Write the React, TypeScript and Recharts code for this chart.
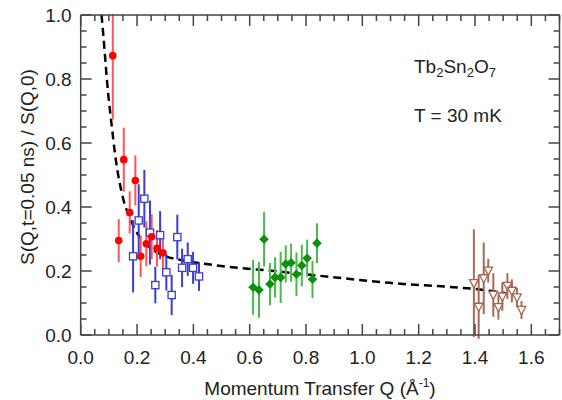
import { ComposedChart, ErrorBar, Line, Scatter, XAxis, YAxis } from 'recharts'

// values (Q in 1/Å, S = S(Q,t)/S(Q,0), err = half length of the bar)
const redQ = [0.114, 0.135, 0.153, 0.174, 0.194, 0.213, 0.233, 0.252, 0.271, 0.292]
const redS = [0.873, 0.295, 0.548, 0.383, 0.483, 0.246, 0.285, 0.307, 0.271, 0.257]
const redErr = [0.2, 0.067, 0.1, 0.066, 0.078, 0.065, 0.07, 0.07, 0.057, 0.06]

const blueQ = [0.186, 0.206, 0.226, 0.246, 0.265, 0.282, 0.304, 0.323, 0.343, 0.36, 0.38, 0.399, 0.42]
const blueS = [0.246, 0.358, 0.426, 0.32, 0.156, 0.312, 0.196, 0.125, 0.306, 0.21, 0.237, 0.21, 0.183]
const blueErr = [0.113, 0.113, 0.09, 0.1, 0.057, 0.075, 0.057, 0.063, 0.07, 0.06, 0.052, 0.05, 0.045]

const greenQ = [0.612, 0.633, 0.651, 0.672, 0.69, 0.71, 0.728, 0.747, 0.766, 0.785, 0.804, 0.823, 0.839]
const greenS = [0.149, 0.141, 0.299, 0.159, 0.18, 0.18, 0.222, 0.226, 0.19, 0.217, 0.24, 0.174, 0.287]
const greenErr = [0.086, 0.087, 0.085, 0.066, 0.063, 0.08, 0.058, 0.06, 0.068, 0.065, 0.058, 0.058, 0.062]

const brownQ = [1.396, 1.413, 1.431, 1.447, 1.465, 1.483, 1.497, 1.515, 1.531, 1.549, 1.565]
const brownS = [0.162, 0.088, 0.177, 0.201, 0.125, 0.087, 0.12, 0.153, 0.138, 0.117, 0.078]
const brownErr = [0.168, 0.1, 0.112, 0.037, 0.068, 0.039, 0.044, 0.04, 0.036, 0.03, 0.028]

// dashed fit curve
const curveQ = [0.074, 0.08, 0.098, 0.11, 0.122, 0.151, 0.175, 0.21, 0.258, 0.305, 0.34, 0.46, 0.707, 1.097, 1.454, 1.516]
const curveS = [1.0, 0.94, 0.75, 0.655, 0.565, 0.425, 0.365, 0.305, 0.265, 0.245, 0.237, 0.22, 0.198, 0.163, 0.138, 0.13]

const xMajorTicks = [0, 0.2, 0.4, 0.6, 0.8, 1.0, 1.2, 1.4, 1.6]
const xTickLabels = ['0.0', '0.2', '0.4', '0.6', '0.8', '1.0', '1.2', '1.4', '1.6']
const yMajorTicks = [0, 0.2, 0.4, 0.6, 0.8, 1.0]
const yTickLabels = ['0.0', '0.2', '0.4', '0.6', '0.8', '1.0']
const xMinorStep = 0.05
const yMinorStep = 0.05

const X_MAX = 1.7
const Y_MAX = 1.0

const FRAME = '#444'
const FONT = '"Liberation Sans", Arial, sans-serif'
const FONT_SIZE = 19

const MARGIN = { top: 14, right: 1.5, bottom: 64, left: 79.7 }
const W = 562
const H = 400

const toRows = (q: number[], s: number[], err: number[]) =>
  q.map((v, i) => ({ q: v, s: s[i], err: err[i] }))

const redData = toRows(redQ, redS, redErr)
const blueData = toRows(blueQ, blueS, blueErr)
const greenData = toRows(greenQ, greenS, greenErr)
const brownData = toRows(brownQ, brownS, brownErr)
const curveData = curveQ.map((q, i) => ({ q, s: curveS[i] }))

const steps = (max: number, step: number) =>
  Array.from({ length: Math.round(max / step) + 1 }, (_, i) => +(i * step).toFixed(3))

const xTicks = steps(X_MAX, xMinorStep)
const yTicks = steps(Y_MAX, yMinorStep)

const majorIndex = (v: number, majors: number[]) => majors.findIndex((m) => Math.abs(m - v) < 1e-6)

const MAJOR_LEN = 11
const MINOR_LEN = 6

function makeTick(side: 'bottom' | 'top' | 'left' | 'right') {
  return (p: any) => {
    const v = p.payload.value
    const horizontal = side === 'bottom' || side === 'top'
    const idx = majorIndex(v, horizontal ? xMajorTicks : yMajorTicks)
    const len = idx >= 0 ? MAJOR_LEN : MINOR_LEN
    const { x, y } = p
    let line
    if (side === 'bottom') line = <line x1={x} x2={x} y1={y} y2={y - len} />
    else if (side === 'top') line = <line x1={x} x2={x} y1={y} y2={y + len} />
    else if (side === 'left') line = <line x1={x} x2={x + len} y1={y} y2={y} />
    else line = <line x1={x} x2={x - len} y1={y} y2={y} />
    return (
      <g>
        <g stroke={FRAME} strokeWidth={1.5}>{line}</g>
        {side === 'bottom' && idx >= 0 && (
          <text x={x} y={y + 29} textAnchor="middle" fontFamily={FONT} fontSize={FONT_SIZE} fill="#222">
            {xTickLabels[idx]}
          </text>
        )}
        {side === 'left' && idx >= 0 && (
          <text x={x - 9} y={y + 7} textAnchor="end" fontFamily={FONT} fontSize={FONT_SIZE} fill="#222">
            {yTickLabels[idx]}
          </text>
        )}
      </g>
    )
  }
}

const RedDot = (p: any) => <circle cx={p.cx} cy={p.cy} r={3.8} fill="#ff0000" />
const BlueSquare = (p: any) => (
  <rect x={p.cx - 3.6} y={p.cy - 3.6} width={7.2} height={7.2} fill="#fff" stroke="#3b3bd6" strokeWidth={1.3} />
)
const GreenDiamond = (p: any) => (
  <polygon
    points={`${p.cx},${p.cy - 4.8} ${p.cx + 4.8},${p.cy} ${p.cx},${p.cy + 4.8} ${p.cx - 4.8},${p.cy}`}
    fill="#0a930a"
  />
)
const BrownTriangle = (p: any) => (
  <polygon
    points={`${p.cx - 4.3},${p.cy - 3.6} ${p.cx + 4.3},${p.cy - 3.6} ${p.cx},${p.cy + 4.6}`}
    fill="#fff"
    stroke="#a5644f"
    strokeWidth={1.3}
  />
)

const axisLine = { stroke: FRAME, strokeWidth: 1.5 }

// axes are 1px thick (recharts skips zero-sized axes); margins absorb that pixel
const xAxisCommon = {
  type: 'number' as const,
  dataKey: 'q',
  domain: [0, X_MAX],
  ticks: xTicks,
  interval: 0,
  allowDataOverflow: true,
  height: 1,
  tickSize: 0,
  tickMargin: 0,
  tickLine: false,
  axisLine,
}

const yAxisCommon = {
  type: 'number' as const,
  domain: [0, Y_MAX],
  ticks: yTicks,
  interval: 0,
  allowDataOverflow: true,
  width: 1,
  tickSize: 0,
  tickMargin: 0,
  tickLine: false,
  axisLine,
}

export default function App() {
  const plotLeft = MARGIN.left + 1
  const plotRight = W - MARGIN.right - 1
  const plotTop = MARGIN.top + 1
  return (
    <div style={{ width: W, height: H, position: 'relative', background: '#fff' }}>
      <style>{'body{margin:0}'}</style>
      <ComposedChart width={W} height={H} margin={MARGIN}>
        <XAxis xAxisId="b" orientation="bottom" {...xAxisCommon} tick={makeTick('bottom')} />
        <XAxis xAxisId="t" orientation="top" {...xAxisCommon} tick={makeTick('top')} />
        <YAxis yAxisId="l" orientation="left" {...yAxisCommon} tick={makeTick('left')} />
        <YAxis yAxisId="r" orientation="right" {...yAxisCommon} tick={makeTick('right')} />

        <Line
          xAxisId="b"
          yAxisId="l"
          data={curveData}
          dataKey="s"
          type="monotone"
          stroke="#000"
          strokeWidth={2.5}
          strokeDasharray="8 5"
          dot={false}
          activeDot={false}
          isAnimationActive={false}
        />
        <Scatter xAxisId="b" yAxisId="l" data={blueData} dataKey="s" shape={BlueSquare} isAnimationActive={false}>
          <ErrorBar dataKey="err" direction="y" width={0} stroke="#3b3bd6" strokeWidth={2} />
        </Scatter>
        <Scatter xAxisId="b" yAxisId="l" data={redData} dataKey="s" shape={RedDot} isAnimationActive={false}>
          <ErrorBar dataKey="err" direction="y" width={0} stroke="#ff5555" strokeWidth={2} />
        </Scatter>
        <Scatter xAxisId="b" yAxisId="l" data={greenData} dataKey="s" shape={GreenDiamond} isAnimationActive={false}>
          <ErrorBar dataKey="err" direction="y" width={0} stroke="#4cb84c" strokeWidth={2} />
        </Scatter>
        <Scatter xAxisId="b" yAxisId="l" data={brownData} dataKey="s" shape={BrownTriangle} isAnimationActive={false}>
          <ErrorBar dataKey="err" direction="y" width={0} stroke="#a86a56" strokeWidth={2} />
        </Scatter>

        <text x={414} y={73} fontFamily={FONT} fontSize={FONT_SIZE} fill="#222">
          Tb<tspan fontSize={13} dy={4}>2</tspan>
          <tspan dy={-4}>Sn</tspan>
          <tspan fontSize={13} dy={4}>2</tspan>
          <tspan dy={-4}>O</tspan>
          <tspan fontSize={13} dy={4}>7</tspan>
        </text>
        <text x={414} y={122} fontFamily={FONT} fontSize={FONT_SIZE} fill="#222">
          T = 30 mK
        </text>
        <text
          x={0}
          y={0}
          transform="translate(34 167) rotate(-90)"
          textAnchor="middle"
          fontFamily={FONT}
          fontSize={FONT_SIZE}
          fill="#222"
        >
          S(Q,t=0.05 ns) / S(Q,0)
        </text>
        <text x={320} y={395} textAnchor="middle" fontFamily={FONT} fontSize={FONT_SIZE} fill="#222">
          Momentum Transfer Q (Å<tspan fontSize={12} dy={-8}>-1</tspan>
          <tspan dy={8}>)</tspan>
        </text>
      </ComposedChart>
      {/* recharts leaves error bars unclipped; cover the part sticking out above the frame */}
      <div
        style={{
          position: 'absolute',
          left: plotLeft,
          top: 0,
          width: plotRight - plotLeft,
          height: plotTop - 0.8,
          background: '#fff',
          pointerEvents: 'none',
        }}
      />
    </div>
  )
}
